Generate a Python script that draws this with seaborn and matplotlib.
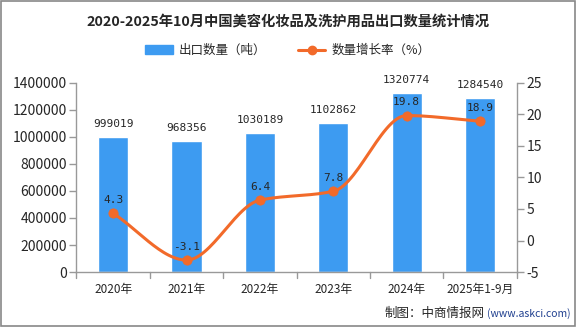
import numpy as np
import pandas as pd
import matplotlib
matplotlib.use("Agg")
import matplotlib.pyplot as plt
import seaborn as sns
from matplotlib.lines import Line2D
from matplotlib.patches import Patch, Rectangle

categories = ["2020年", "2021年", "2022年", "2023年", "2024年", "2025年1-9月"]
export_qty = [999019, 968356, 1030189, 1102862, 1320774, 1284540]
growth = [4.3, -3.1, 6.4, 7.8, 19.8, 18.9]
left_ticks = [0, 200000, 400000, 600000, 800000, 1000000, 1200000, 1400000]
right_ticks = [-5, 0, 5, 10, 15, 20, 25]

sns.set_style("white")
plt.rcParams['font.family'] = ['Noto Sans CJK SC', 'DejaVu Sans']

BAR = "#3d9bf1"
LINE = "#f26a2a"
GRAY = "#999999"

df = pd.DataFrame({"cat": categories, "qty": export_qty, "g": growth})

fig = plt.figure(figsize=(5.76, 3.27), dpi=100)
ax = fig.add_axes([0.1328, 0.168, 0.7642, 0.579])
sns.barplot(data=df, x="cat", y="qty", color=BAR, width=0.41, ax=ax, saturation=1)
ax.set_xlim(-0.5, 5.5)
ax.set_ylim(0, 1400000)
ax.set_yticks(left_ticks)
ax.set_yticklabels([str(t) for t in left_ticks], fontsize=10)
ax.set_xlabel("")
ax.set_ylabel("")
ax.set_xticks(np.arange(len(categories)))
ax.set_xticklabels(categories, fontsize=8.5)
ax.tick_params(axis="x", length=0, pad=8)
for xb in np.arange(-0.5, 6.0, 1.0):
    ax.plot([xb, xb], [0, -0.03], transform=ax.get_xaxis_transform(), color=GRAY, lw=1, clip_on=False)
ax.tick_params(axis="y", length=5, color=GRAY, width=1, pad=2, direction="out", left=True)
for s in ["top", "right"]:
    ax.spines[s].set_visible(False)
for s in ["left", "bottom"]:
    ax.spines[s].set_color(GRAY)
    ax.spines[s].set_linewidth(1)

for i, v in enumerate(export_qty):
    ax.text(i, v + 60000, str(v), ha="center", va="bottom", fontsize=8, family=["DejaVu Sans Mono"])

ax2 = ax.twinx()
ax2.set_ylim(-5, 25)
ax2.set_yticks(right_ticks)
ax2.set_yticklabels([str(t) for t in right_ticks], fontsize=10)
ax2.tick_params(axis="y", length=5, color=GRAY, width=1, pad=2, direction="out", right=True)
for s in ["top", "left", "bottom"]:
    ax2.spines[s].set_visible(False)
ax2.spines["right"].set_color(GRAY)
ax2.spines["right"].set_linewidth(1)

# smooth curve through the data points (monotone cubic Hermite)
xs = np.arange(len(growth), dtype=float)
ys = np.array(growth, dtype=float)
d = np.diff(ys)
m = np.zeros_like(ys)
m[0], m[-1] = d[0], d[-1]
for k in range(1, len(ys) - 1):
    if d[k - 1] * d[k] <= 0:
        m[k] = 0
    else:
        m[k] = 2 / (1 / d[k - 1] + 1 / d[k])
px, py = [], []
for k in range(len(ys) - 1):
    t = np.linspace(0, 1, 30)
    h00 = 2 * t**3 - 3 * t**2 + 1
    h10 = t**3 - 2 * t**2 + t
    h01 = -2 * t**3 + 3 * t**2
    h11 = t**3 - t**2
    px.extend(xs[k] + t)
    py.extend(h00 * ys[k] + h10 * m[k] + h01 * ys[k + 1] + h11 * m[k + 1])
ax2.plot(px, py, color=LINE, lw=2.2, solid_capstyle="round")
sns.scatterplot(x=xs, y=ys, color=LINE, s=45, ax=ax2, edgecolor=LINE, zorder=5, legend=False)
for i, v in enumerate(growth):
    ax2.text(i, v + 1.3, f"{v}", ha="center", va="bottom", fontsize=8, family=["DejaVu Sans Mono"])

fig.text(0.5, 0.93, "2020-2025年10月中国美容化妆品及洗护用品出口数量统计情况", ha="center", va="center",
         fontsize=10.3, fontweight="bold")

handles = [Patch(facecolor=BAR, edgecolor=BAR),
           Line2D([0], [0], color=LINE, lw=2.2, marker="o", markersize=6)]
fig.legend(handles, ["出口数量（吨）", "数量增长率（%）"], loc="center", bbox_to_anchor=(0.5, 0.845),
           ncol=2, frameon=False, fontsize=9, handlelength=2.2, columnspacing=2.5, handletextpad=0.5)

fig.text(0.668, 0.042, "制图：中商情报网", ha="left", va="center", fontsize=9)
fig.text(0.846, 0.042, "(www.askci.com)", ha="left", va="center", fontsize=7.5, color="#1f3f8f")

fig.patches.append(Rectangle((0.001, 0.002), 0.997, 0.995, transform=fig.transFigure, fill=False,
                             edgecolor="#888888", lw=1.2))

fig.savefig("out.png", dpi=100)
